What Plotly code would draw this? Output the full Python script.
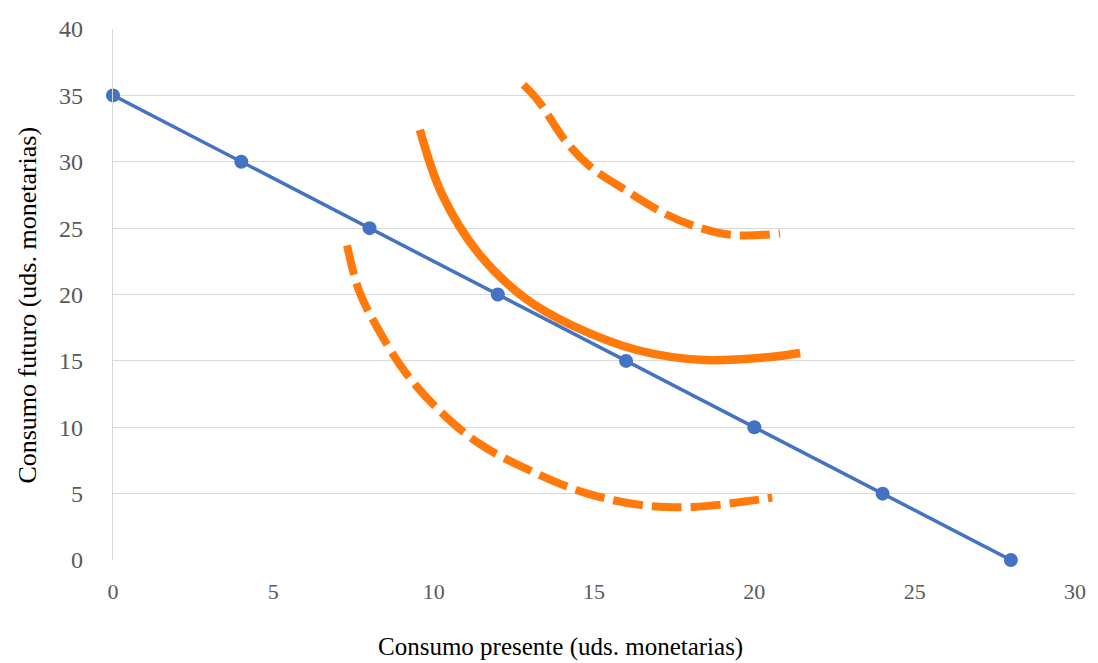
import plotly.graph_objects as go

# Budget line
budget_x = [0, 4, 8, 12, 16, 20, 24, 28]
budget_y = [35, 30, 25, 20, 15, 10, 5, 0]

# Indifference curves
ic_low_x = [7.3, 7.67, 8.29, 9.13, 10.16, 11.4, 12.95, 14.8, 16.6, 18.1, 19.7, 20.56]
ic_low_y = [23.7, 20.3, 17.3, 14.1, 11.3, 8.8, 6.8, 5.0, 4.1, 4.0, 4.4, 4.7]

ic_mid_x = [9.57, 10.25, 11.4, 12.86, 14.29, 16.37, 18.45, 20.5, 21.43]
ic_mid_y = [32.4, 27.6, 23.1, 19.7, 17.7, 15.8, 15.06, 15.29, 15.59]

ic_high_x = [12.8, 13.26, 14.1, 14.9, 15.96, 17.2, 18.2, 19.25, 20.3, 20.8]
ic_high_y = [35.8, 34.6, 31.6, 29.6, 27.9, 26.1, 25.1, 24.5, 24.5, 24.6]

x_ticks = [0, 5, 10, 15, 20, 25, 30]
y_ticks = [0, 5, 10, 15, 20, 25, 30, 35, 40]

ORANGE = "#FF7A0A"
BLUE = "#4472C4"

fig = go.Figure()
fig.add_trace(go.Scatter(x=ic_low_x, y=ic_low_y, mode="lines", line_shape="spline",
                         line=dict(color=ORANGE, width=8, dash="30px,9px"), hoverinfo="skip"))
fig.add_trace(go.Scatter(x=ic_mid_x, y=ic_mid_y, mode="lines", line_shape="spline",
                         line=dict(color=ORANGE, width=8.5), hoverinfo="skip"))
fig.add_trace(go.Scatter(x=ic_high_x, y=ic_high_y, mode="lines", line_shape="spline",
                         line=dict(color=ORANGE, width=8, dash="30px,9px"), hoverinfo="skip"))
fig.add_trace(go.Scatter(x=budget_x, y=budget_y, mode="lines+markers",
                         line=dict(color=BLUE, width=3.5),
                         marker=dict(color=BLUE, size=14), cliponaxis=False))

fig.update_layout(
    width=1098, height=663,
    margin=dict(l=113, r=18, t=29, b=103),
    paper_bgcolor="white", plot_bgcolor="white",
    showlegend=False,
    xaxis=dict(range=[0, 30], tickvals=x_ticks, ticktext=[str(v) for v in x_ticks],
               showgrid=False, zeroline=False, showline=False,
               tickfont=dict(family="Liberation Serif", size=22, color="#595959"),
               ticks="", ticklabelstandoff=16),
    yaxis=dict(range=[0, 40], tickvals=y_ticks, ticktext=[str(v) for v in y_ticks],
               showgrid=True, gridcolor="#d9d9d9", gridwidth=1.3,
               zeroline=False, showline=True, linecolor="#d9d9d9", linewidth=1.3,
               tickfont=dict(family="Liberation Serif", size=24, color="#595959"),
               ticks="", ticklabelstandoff=24),
    annotations=[
        dict(text="Consumo presente (uds. monetarias)", xref="paper", yref="paper",
             x=0.4654, y=-0.163, xanchor="center", yanchor="middle", showarrow=False,
             font=dict(family="Liberation Serif", size=25, color="black")),
        dict(text="Consumo futuro (uds. monetarias)", xref="paper", yref="paper",
             x=-0.0889, y=0.480, xanchor="center", yanchor="middle", showarrow=False,
             textangle=-90,
             font=dict(family="Liberation Serif", size=26, color="black")),
    ],
)

fig.write_html("out.html")
